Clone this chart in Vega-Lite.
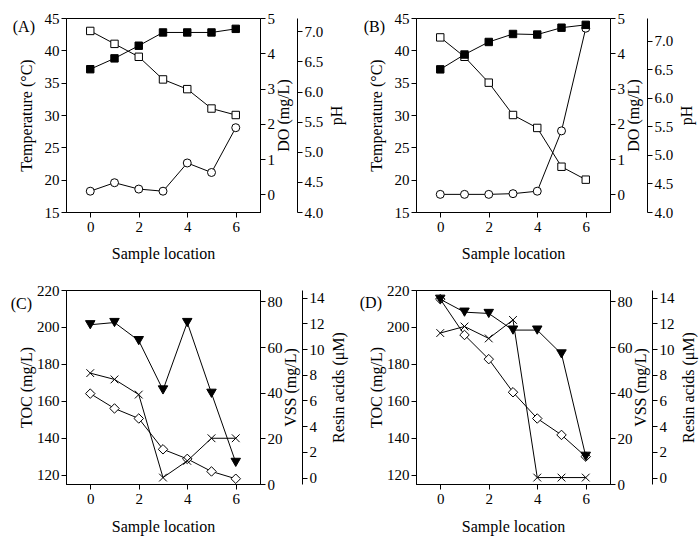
{
  "$schema": "https://vega.github.io/schema/vega-lite/v6.json",
  "padding": {"left": 10, "top": 10, "right": 5, "bottom": 5},
  "datasets": {
    "A": [
      {"loc": 0, "temp": 43, "ph": 6.37, "do": 0.09},
      {"loc": 1, "temp": 41, "ph": 6.55, "do": 0.33},
      {"loc": 2, "temp": 39, "ph": 6.76, "do": 0.15},
      {"loc": 3, "temp": 35.5, "ph": 6.98, "do": 0.09},
      {"loc": 4, "temp": 34, "ph": 6.98, "do": 0.89},
      {"loc": 5, "temp": 31, "ph": 6.98, "do": 0.62},
      {"loc": 6, "temp": 30, "ph": 7.04, "do": 1.89}
    ],
    "B": [
      {"loc": 0, "temp": 42, "ph": 6.5, "do": 0},
      {"loc": 1, "temp": 39, "ph": 6.76, "do": 0},
      {"loc": 2, "temp": 35, "ph": 6.98, "do": 0},
      {"loc": 3, "temp": 30, "ph": 7.12, "do": 0.02},
      {"loc": 4, "temp": 28, "ph": 7.11, "do": 0.09},
      {"loc": 5, "temp": 22, "ph": 7.23, "do": 1.8},
      {"loc": 6, "temp": 20, "ph": 7.28, "do": 4.71}
    ],
    "C": [
      {"loc": 0, "toc": 201.2, "vss": 39.6, "resin": 8.13},
      {"loc": 1, "toc": 202.4, "vss": 33.1, "resin": 7.64},
      {"loc": 2, "toc": 192.6, "vss": 28.7, "resin": 6.46},
      {"loc": 3, "toc": 165.9, "vss": 15.2, "resin": 0},
      {"loc": 4, "toc": 202.4, "vss": 11.0, "resin": 1.3},
      {"loc": 5, "toc": 164.1, "vss": 5.5, "resin": 3.06},
      {"loc": 6, "toc": 126.7, "vss": 2.3, "resin": 3.06}
    ],
    "D": [
      {"loc": 0, "toc": 215, "vss": 81, "resin": 11.25},
      {"loc": 1, "toc": 208, "vss": 65.3, "resin": 11.76},
      {"loc": 2, "toc": 207.3, "vss": 54.7, "resin": 10.83},
      {"loc": 3, "toc": 198.3, "vss": 40.2, "resin": 12.27},
      {"loc": 4, "toc": 198.3, "vss": 28.7, "resin": 0},
      {"loc": 5, "toc": 185.4, "vss": 21.5, "resin": 0},
      {"loc": 6, "toc": 130, "vss": 12.0, "resin": 0}
    ],
    "labA": [{"loc": -1, "yv": 43.6, "t": "(A)"}],
    "labB": [{"loc": -1, "yv": 43.6, "t": "(B)"}],
    "labC": [{"loc": -1, "yv": 212.3, "t": "(C)"}],
    "labD": [{"loc": -1, "yv": 213, "t": "(D)"}]
  },
  "columns": 2,
  "spacing": {"row": 78, "column": 156},
  "bounds": "flush",
  "concat": [
    {
      "width": 194, "height": 194,
      "data": {"name": "A"},
      "encoding": {"x": {"field": "loc", "type": "quantitative", "scale": {"domain": [-1, 7], "nice": false, "zero": false}, "axis": {"values": [0, 2, 4, 6], "title": "Sample location", "titlePadding": 11}}},
      "layer": [
        {"layer": [
          {"mark": {"type": "line", "color": "black", "strokeWidth": 1, "point": {"shape": "square", "size": 55, "filled": true, "fill": "white", "stroke": "black", "strokeWidth": 1}},
           "encoding": {"y": {"field": "temp", "type": "quantitative", "scale": {"domain": [15, 45], "nice": false, "zero": false}, "axis": {"values": [15, 20, 25, 30, 35, 40, 45], "title": "Temperature (°C)", "titlePadding": 10}}}},
          {"data": {"name": "labA"}, "mark": {"type": "text", "align": "right", "baseline": "middle", "dx": -31, "fontSize": 16, "font": "Liberation Serif", "color": "black"},
           "encoding": {"y": {"field": "yv", "type": "quantitative", "scale": {"domain": [15, 45], "nice": false, "zero": false}, "axis": {"values": [15, 20, 25, 30, 35, 40, 45], "title": "Temperature (°C)", "titlePadding": 10}}, "text": {"field": "t"}}}
        ]},
        {"mark": {"type": "line", "color": "black", "strokeWidth": 1, "point": {"shape": "circle", "size": 64, "filled": true, "fill": "white", "stroke": "black", "strokeWidth": 1}},
         "encoding": {"y": {"field": "do", "type": "quantitative", "scale": {"domain": [-0.5, 5], "nice": false, "zero": false}, "axis": {"orient": "right", "values": [0, 1, 2, 3, 4, 5], "title": "DO (mg/L)", "titleAngle": 270, "titleBaseline": "top", "titlePadding": 1}}}},
        {"mark": {"type": "line", "color": "black", "strokeWidth": 1, "point": {"shape": "square", "size": 55, "filled": true, "fill": "black", "stroke": "black", "strokeWidth": 1}},
         "encoding": {"y": {"field": "ph", "type": "quantitative", "scale": {"domain": [4, 7.22], "nice": false, "zero": false}, "axis": {"orient": "right", "offset": 37, "values": [4, 4.5, 5, 5.5, 6, 6.5, 7], "format": ".1f", "title": "pH", "titleAngle": 270, "titleBaseline": "top", "titlePadding": 6}}}}
      ],
      "resolve": {"scale": {"y": "independent"}}
    },
    {
      "width": 194, "height": 194,
      "data": {"name": "B"},
      "encoding": {"x": {"field": "loc", "type": "quantitative", "scale": {"domain": [-1, 7], "nice": false, "zero": false}, "axis": {"values": [0, 2, 4, 6], "title": "Sample location", "titlePadding": 11}}},
      "layer": [
        {"layer": [
          {"mark": {"type": "line", "color": "black", "strokeWidth": 1, "point": {"shape": "square", "size": 55, "filled": true, "fill": "white", "stroke": "black", "strokeWidth": 1}},
           "encoding": {"y": {"field": "temp", "type": "quantitative", "scale": {"domain": [15, 45], "nice": false, "zero": false}, "axis": {"values": [15, 20, 25, 30, 35, 40, 45], "title": "Temperature (°C)", "titlePadding": 10}}}},
          {"data": {"name": "labB"}, "mark": {"type": "text", "align": "right", "baseline": "middle", "dx": -31, "fontSize": 16, "font": "Liberation Serif", "color": "black"},
           "encoding": {"y": {"field": "yv", "type": "quantitative", "scale": {"domain": [15, 45], "nice": false, "zero": false}, "axis": {"values": [15, 20, 25, 30, 35, 40, 45], "title": "Temperature (°C)", "titlePadding": 10}}, "text": {"field": "t"}}}
        ]},
        {"mark": {"type": "line", "color": "black", "strokeWidth": 1, "point": {"shape": "circle", "size": 64, "filled": true, "fill": "white", "stroke": "black", "strokeWidth": 1}},
         "encoding": {"y": {"field": "do", "type": "quantitative", "scale": {"domain": [-0.5, 5], "nice": false, "zero": false}, "axis": {"orient": "right", "values": [0, 1, 2, 3, 4, 5], "title": "DO (mg/L)", "titleAngle": 270, "titleBaseline": "top", "titlePadding": 1}}}},
        {"mark": {"type": "line", "color": "black", "strokeWidth": 1, "point": {"shape": "square", "size": 55, "filled": true, "fill": "black", "stroke": "black", "strokeWidth": 1}},
         "encoding": {"y": {"field": "ph", "type": "quantitative", "scale": {"domain": [4, 7.4], "nice": false, "zero": false}, "axis": {"orient": "right", "offset": 37, "values": [4, 4.5, 5, 5.5, 6, 6.5, 7], "format": ".1f", "title": "pH", "titleAngle": 270, "titleBaseline": "top", "titlePadding": 6}}}}
      ],
      "resolve": {"scale": {"y": "independent"}}
    },
    {
      "width": 194, "height": 194,
      "data": {"name": "C"},
      "encoding": {"x": {"field": "loc", "type": "quantitative", "scale": {"domain": [-1, 7], "nice": false, "zero": false}, "axis": {"values": [0, 2, 4, 6], "title": "Sample location", "titlePadding": 12}}},
      "layer": [
        {"mark": {"type": "line", "color": "black", "strokeWidth": 1, "point": {"shape": "diamond", "size": 90, "filled": true, "fill": "white", "stroke": "black", "strokeWidth": 1}},
         "encoding": {"y": {"field": "vss", "type": "quantitative", "scale": {"domain": [0, 85], "nice": false, "zero": false}, "axis": {"orient": "right", "values": [0, 20, 40, 60, 80], "title": "VSS (mg/L)", "titleAngle": 270, "titleBaseline": "top", "titlePadding": 0}}}},
        {"mark": {"type": "line", "color": "black", "strokeWidth": 1, "point": {"shape": "M-1,-1L1,1M-1,1L1,-1", "size": 60, "filled": false, "stroke": "black", "strokeWidth": 1}},
         "encoding": {"y": {"field": "resin", "type": "quantitative", "scale": {"domain": [-0.5, 14.6], "nice": false, "zero": false}, "axis": {"orient": "right", "offset": 42, "values": [0, 2, 4, 6, 8, 10, 12, 14], "title": "Resin acids (μM)", "titleAngle": 270, "titleBaseline": "top", "titlePadding": 6}}}},
        {"layer": [
          {"mark": {"type": "line", "color": "black", "strokeWidth": 1, "point": {"shape": "triangle-down", "size": 90, "filled": true, "fill": "black", "stroke": "black", "strokeWidth": 1}},
           "encoding": {"y": {"field": "toc", "type": "quantitative", "scale": {"domain": [115, 220], "nice": false, "zero": false}, "axis": {"values": [120, 140, 160, 180, 200, 220], "title": "TOC (mg/L)", "orient": "left", "titlePadding": 2}}}},
          {"data": {"name": "labC"}, "mark": {"type": "text", "align": "right", "baseline": "middle", "dx": -34, "fontSize": 16, "font": "Liberation Serif", "color": "black"},
           "encoding": {"y": {"field": "yv", "type": "quantitative", "scale": {"domain": [115, 220], "nice": false, "zero": false}, "axis": {"values": [120, 140, 160, 180, 200, 220], "title": "TOC (mg/L)", "orient": "left", "titlePadding": 2}}, "text": {"field": "t"}}}
        ]}
      ],
      "resolve": {"scale": {"y": "independent"}}
    },
    {
      "width": 194, "height": 194,
      "data": {"name": "D"},
      "encoding": {"x": {"field": "loc", "type": "quantitative", "scale": {"domain": [-1, 7], "nice": false, "zero": false}, "axis": {"values": [0, 2, 4, 6], "title": "Sample location", "titlePadding": 12}}},
      "layer": [
        {"mark": {"type": "line", "color": "black", "strokeWidth": 1, "point": {"shape": "diamond", "size": 90, "filled": true, "fill": "white", "stroke": "black", "strokeWidth": 1}},
         "encoding": {"y": {"field": "vss", "type": "quantitative", "scale": {"domain": [0, 85], "nice": false, "zero": false}, "axis": {"orient": "right", "values": [0, 20, 40, 60, 80], "title": "VSS (mg/L)", "titleAngle": 270, "titleBaseline": "top", "titlePadding": 0}}}},
        {"mark": {"type": "line", "color": "black", "strokeWidth": 1, "point": {"shape": "M-1,-1L1,1M-1,1L1,-1", "size": 60, "filled": false, "stroke": "black", "strokeWidth": 1}},
         "encoding": {"y": {"field": "resin", "type": "quantitative", "scale": {"domain": [-0.5, 14.6], "nice": false, "zero": false}, "axis": {"orient": "right", "offset": 42, "values": [0, 2, 4, 6, 8, 10, 12, 14], "title": "Resin acids (μM)", "titleAngle": 270, "titleBaseline": "top", "titlePadding": 6}}}},
        {"layer": [
          {"mark": {"type": "line", "color": "black", "strokeWidth": 1, "point": {"shape": "triangle-down", "size": 90, "filled": true, "fill": "black", "stroke": "black", "strokeWidth": 1}},
           "encoding": {"y": {"field": "toc", "type": "quantitative", "scale": {"domain": [115, 220], "nice": false, "zero": false}, "axis": {"values": [120, 140, 160, 180, 200, 220], "title": "TOC (mg/L)", "orient": "left", "titlePadding": 2}}}},
          {"data": {"name": "labD"}, "mark": {"type": "text", "align": "right", "baseline": "middle", "dx": -34, "fontSize": 16, "font": "Liberation Serif", "color": "black"},
           "encoding": {"y": {"field": "yv", "type": "quantitative", "scale": {"domain": [115, 220], "nice": false, "zero": false}, "axis": {"values": [120, 140, 160, 180, 200, 220], "title": "TOC (mg/L)", "orient": "left", "titlePadding": 2}}, "text": {"field": "t"}}}
        ]}
      ],
      "resolve": {"scale": {"y": "independent"}}
    }
  ],
  "config": {
    "font": "Liberation Serif",
    "background": "white",
    "view": {"stroke": "black", "strokeWidth": 1},
    "axis": {
      "labelFont": "Liberation Serif", "titleFont": "Liberation Serif",
      "labelFontSize": 15, "titleFontSize": 16, "titleFontWeight": "normal",
      "labelColor": "black", "titleColor": "black", "domainColor": "black", "tickColor": "black",
      "grid": false, "tickSize": 5, "labelPadding": 2, "titlePadding": 6, "labelFlush": false, "labelOverlap": false
    }
  }
}
